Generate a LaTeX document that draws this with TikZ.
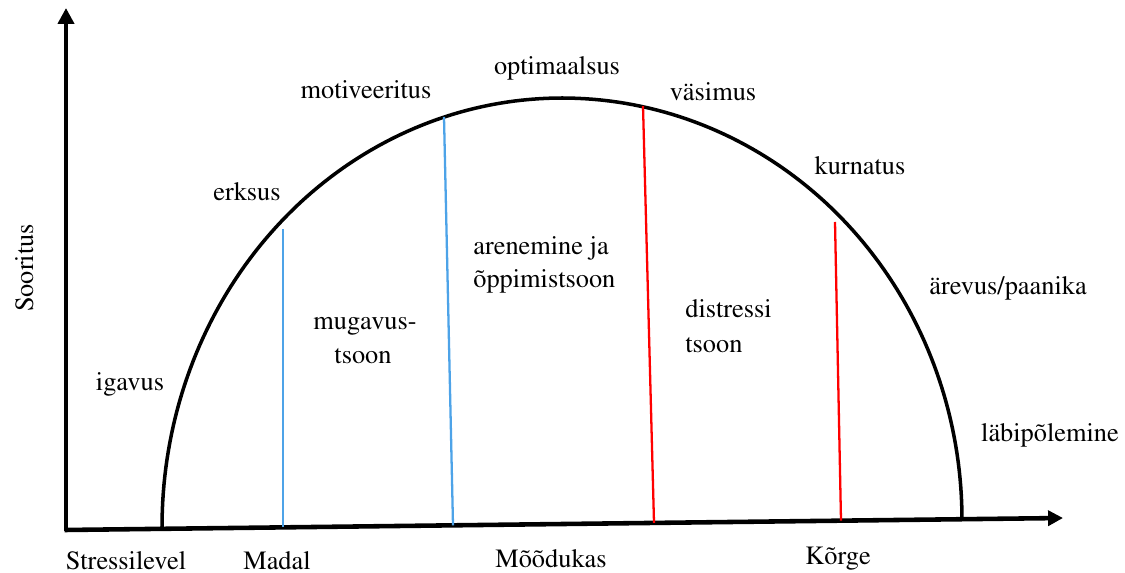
\documentclass[tikz,border=0pt]{standalone}
\usepackage[T1]{fontenc}
\usepackage{mathptmx}
\usetikzlibrary{arrows.meta}
\definecolor{zoneblue}{RGB}{77,163,232}
\definecolor{zonered}{RGB}{255,0,0}
\begin{document}
\begin{tikzpicture}[x=0.02cm,y=-0.02cm,
  axis/.style={line width=2.6pt,line cap=butt},
  curveline/.style={line width=2pt,line join=round},
  bluezone/.style={line width=1.3pt,zoneblue},
  redzone/.style={line width=1.3pt,zonered},
  lbl/.style={font=\rmfamily\fontsize{15}{18}\selectfont,inner sep=0pt,anchor=base},
  lblw/.style={lbl,anchor=base west}]
\useasboundingbox (0,0) rectangle (1125,573);
% axes
\coordinate (O) at (66,531);
\coordinate (Ytop) at (66,8);
\coordinate (Xend) at (1063,518);
\draw[axis,-{Triangle[length=9pt,width=9pt]}] (O) -- (Ytop);
\draw[axis,-{Triangle[length=8.5pt,width=8.5pt]}] (64.5,530) -- (Xend);
% curve
\draw[curveline] plot[domain=180:90,samples=80] ({562+400*cos(\x)},{527-429*sin(\x)})
  -- plot[domain=90:0,samples=80] ({562+400*cos(\x)},{520-422*sin(\x)});
% zone lines
\coordinate (b1t) at (283,229); \coordinate (b1b) at (283,527.4);
\coordinate (b2t) at (444,117); \coordinate (b2b) at (453,525.3);
\coordinate (r1t) at (643,106); \coordinate (r1b) at (654,522.9);
\coordinate (r2t) at (835,222); \coordinate (r2b) at (841,520.7);
\draw[bluezone] (b1t) -- (b1b);
\draw[bluezone] (b2t) -- (b2b);
\draw[redzone] (r1t) -- (r1b);
\draw[redzone] (r2t) -- (r2b);
% labels on curve
\node[lbl] (opt) at (557,75) {optimaalsus};
\node[lbl] (mot) at (366,99) {motiveeritus};
\node[lbl] (vas) at (713,101) {väsimus};
\node[lbl] (erk) at (247,201) {erksus};
\node[lbl] (kur) at (860,175) {kurnatus};
\node[lbl] (are) at (1008,295) {ärevus/paanika};
\node[lbl] (iga) at (130,391) {igavus};
\node[lbl] (lab) at (1050,442) {läbipõlemine};
% zone labels
\node[lbl] (mug1) at (365,330) {mugavus-};
\node[lbl] (mug2) at (363,364) {tsoon};
\node[lblw] (aren1) at (473,255) {arenemine ja};
\node[lblw] (aren2) at (473,288) {õppimistsoon};
\node[lblw] (dis1) at (685,318) {distressi};
\node[lblw] (dis2) at (685,353) {tsoon};
% axis labels
\node[lbl] (stress) at (126,569) {Stressilevel};
\node[lbl] (madal) at (277,569) {Madal};
\node[lbl] (mood) at (551,567) {Mõõdukas};
\node[lbl] (korge) at (838,564) {Kõrge};
\node[lbl,rotate=90] (soor) at (33,268) {Sooritus};
\end{tikzpicture}
\end{document}
